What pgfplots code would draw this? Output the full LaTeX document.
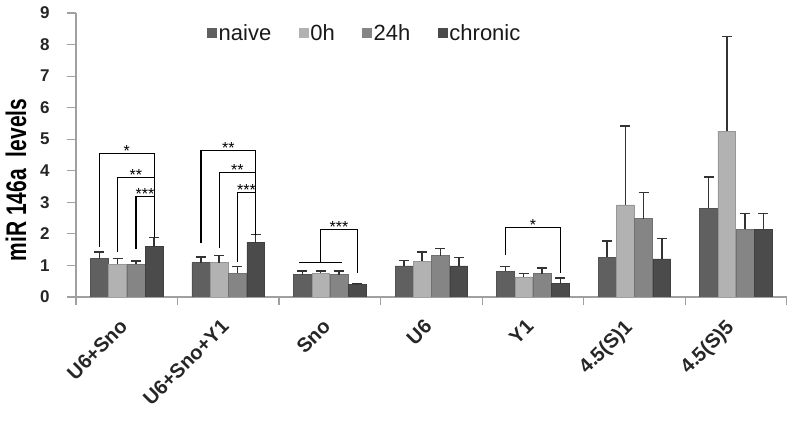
\documentclass[border=0pt]{standalone}
\usepackage{fontspec}
\setmainfont{Liberation Sans}
\usepackage{pgfplots}
\usepackage{pgfplotstable}
\pgfplotsset{compat=1.18}
\definecolor{cNaive}{HTML}{606060}
\definecolor{cZero}{HTML}{B2B2B2}
\definecolor{cTwf}{HTML}{858585}
\definecolor{cChr}{HTML}{4B4B4B}
\definecolor{axgray}{HTML}{A0A0A0}
\definecolor{errc}{HTML}{333333}

\pgfplotstableread{
x y e
0 1.22 0.21
1 1.09 0.17
2 0.71 0.11
3 0.99 0.16
4 0.82 0.15
5 1.26 0.51
6 2.81 1.00
}\naive
\pgfplotstableread{
x y e
0 1.03 0.19
1 1.09 0.22
2 0.76 0.07
3 1.13 0.30
4 0.64 0.10
5 2.92 2.50
6 5.26 3.00
}\zeroh
\pgfplotstableread{
x y e
0 1.03 0.11
1 0.76 0.21
2 0.71 0.11
3 1.31 0.23
4 0.74 0.18
5 2.48 0.83
6 2.14 0.51
}\twfh
\pgfplotstableread{
x y e
0 1.60 0.28
1 1.72 0.26
2 0.39 0.04
3 0.99 0.26
4 0.42 0.18
5 1.21 0.65
6 2.14 0.51
}\chronic

\begin{document}
\begin{tikzpicture}
\begin{axis}[
  scale only axis, width=710.7pt, height=284pt,
  xmin=-0.5, xmax=6.5, ymin=0, ymax=9,
  ybar, bar width=0.175,
  axis lines*=left,
  axis line style={draw=axgray, line width=1.2pt},
  tick align=outside,
  ytick={0,...,9},
  major tick length=9pt,
  ytick style={draw=axgray, line width=1.2pt},
  xtick={0,...,6},
  xticklabels={\rotatebox{45}{U6+Sno},\rotatebox{45}{U6+Sno+Y1},\rotatebox{45}{Sno},\rotatebox{45}{U6},\rotatebox{45}{Y1},\rotatebox{45}{4.5(S)1},\rotatebox{45}{4.5(S)5}},
  major x tick style={draw=none},
  minor xtick={-0.5,0.5,...,6.5},
  minor tick length=8pt,
  minor x tick style={draw=axgray, line width=1.2pt},
  yticklabel style={font=\bfseries\fontsize{17}{17}\selectfont, text=black!85, xshift=-14pt},
  xticklabel shift=12pt,
  xticklabel style={font=\bfseries\fontsize{20}{20}\selectfont, text=black!85, anchor=north east, inner sep=0pt, xshift=2pt},
  /pgf/number format/assume math mode=true,
  ylabel={\scalebox{1}[1.35]{miR 146a\hspace{0.3em} levels}},
  ylabel style={font=\bfseries\fontsize{21}{21}\selectfont, at={(axis description cs:-0.0844,0.412)}, anchor=center},
  error bars/y dir=plus, error bars/y explicit,
  error bars/error bar style={draw=errc, line width=1.5pt},
  error bars/error mark options={rotate=90, mark size=5pt, line width=1.5pt, draw=errc},
  legend image code/.code={\fill[#1,draw=none] (0pt,-5pt) rectangle (10pt,5pt);},
  legend columns=-1,
  legend style={at={(axis description cs:0.1843,0.9296)}, anchor=west, draw=none, fill=none, inner sep=0pt,
    font=\fontsize{22}{22}\selectfont, text=black!90,
    nodes={inner sep=1.5pt},
    /tikz/every even column/.append style={column sep=26pt}},
  legend cell align=left,
]
\addplot[fill=cNaive, draw=cNaive!85!black, line width=0.5pt, bar shift=-0.27] table[x=x,y=y,y error=e]{\naive};
\addplot[fill=cZero, draw=cZero!85!black, line width=0.5pt, bar shift=-0.09] table[x=x,y=y,y error=e]{\zeroh};
\addplot[fill=cTwf, draw=cTwf!85!black, line width=0.5pt, bar shift=0.09] table[x=x,y=y,y error=e]{\twfh};
\addplot[fill=cChr, draw=cChr!85!black, line width=0.5pt, bar shift=0.27] table[x=x,y=y,y error=e]{\chronic};
\legend{naive,0h,24h,chronic}

% significance brackets
\addplot[sharp plot, draw=black, fill=none, mark=none, line width=1.3pt, forget plot, error bars/y dir=none] coordinates {(-0.27,1.59) (-0.27,4.54) (0.27,4.54) (0.27,1.90)};
\addplot[sharp plot, draw=black, fill=none, mark=none, line width=1.3pt, forget plot, error bars/y dir=none] coordinates {(-0.09,1.43) (-0.09,3.78) (0.27,3.78)};
\addplot[sharp plot, draw=black, fill=none, mark=none, line width=1.3pt, forget plot, error bars/y dir=none] coordinates {(0.09,1.53) (0.09,3.18) (0.27,3.18)};
\addplot[sharp plot, draw=black, fill=none, mark=none, line width=1.3pt, forget plot, error bars/y dir=none] coordinates {(0.73,1.70) (0.73,4.64) (1.27,4.64) (1.27,1.97)};
\addplot[sharp plot, draw=black, fill=none, mark=none, line width=1.3pt, forget plot, error bars/y dir=none] coordinates {(0.91,1.55) (0.91,3.94) (1.27,3.94)};
\addplot[sharp plot, draw=black, fill=none, mark=none, line width=1.3pt, forget plot, error bars/y dir=none] coordinates {(1.09,1.11) (1.09,3.31) (1.27,3.31)};
\addplot[sharp plot, draw=black, fill=none, mark=none, line width=1.3pt, forget plot, error bars/y dir=none] coordinates {(1.70,1.10) (2.12,1.10)};
\addplot[sharp plot, draw=black, fill=none, mark=none, line width=1.3pt, forget plot, error bars/y dir=none] coordinates {(1.91,1.10) (1.91,2.13) (2.27,2.13) (2.27,0.76)};
\addplot[sharp plot, draw=black, fill=none, mark=none, line width=1.3pt, forget plot, error bars/y dir=none] coordinates {(3.73,1.33) (3.73,2.20) (4.27,2.20) (4.27,0.77)};

\begin{scope}[every node/.style={font=\fontsize{16}{16}\selectfont, anchor=base, inner sep=0pt, yshift=-2.5pt}]
\node at (axis cs:0,4.54) {*};
\node at (axis cs:0.09,3.78) {**};
\node at (axis cs:0.18,3.18) {***};
\node at (axis cs:1.0,4.64) {**};
\node at (axis cs:1.09,3.94) {**};
\node at (axis cs:1.18,3.31) {***};
\node at (axis cs:2.09,2.13) {***};
\node at (axis cs:4.0,2.20) {*};
\end{scope}
\end{axis}
\pgfresetboundingbox
\path[use as bounding box] (current axis.south west) ++(-76pt,-126pt) rectangle ++(796pt,423pt);
\end{tikzpicture}
\end{document}
